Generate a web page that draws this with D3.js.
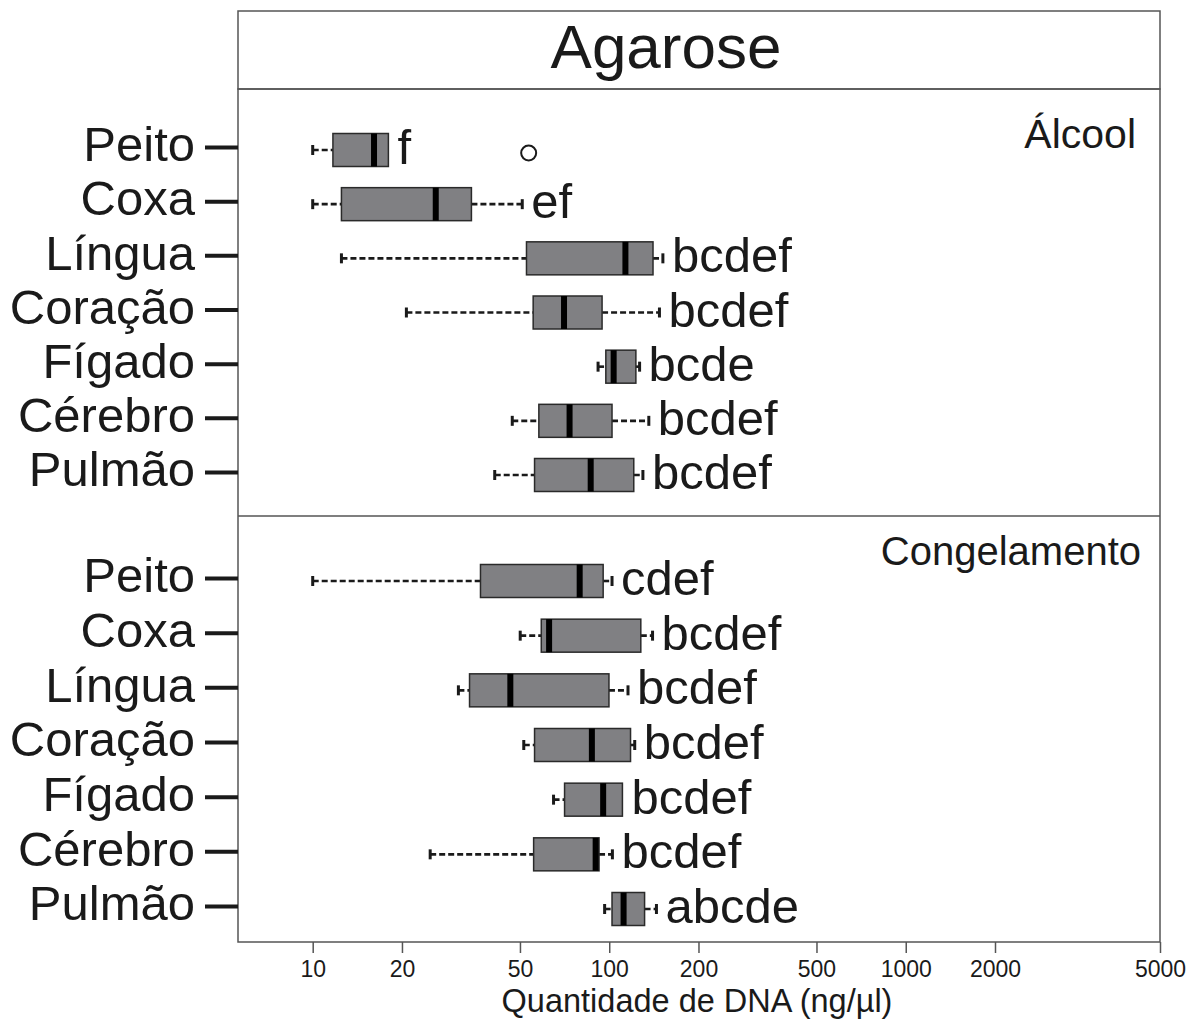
<!DOCTYPE html>
<html>
<head>
<meta charset="utf-8">
<script src="https://cdn.jsdelivr.net/npm/d3@7"></script>
<style>
  body { margin: 0; background: #fff; }
  text { font-family: "Liberation Sans", Arial, Helvetica, sans-serif; fill: #1a1a1a; }
</style>
</head>
<body>
<div id="chart"></div>
<script>
//***************** data *******************/
var organs = ["Peito", "Coxa", "Língua", "Coração", "Fígado", "Cérebro", "Pulmão"];

// Álcool
var alcoolMin    = [10,   10,   12.5,  20.7,  91.7,  47.1,  41.1];
var alcoolQ1     = [11.7, 12.5, 52.6,  55.4,  97.4,  57.9,  56];
var alcoolMed    = [16.1, 26,   113.4, 70.4,  103.5, 73.5,  86.6];
var alcoolQ3     = [18,   34.3, 140.5, 94.6,  123,   102.2, 121];
var alcoolMax    = [18,   50.9, 151.7, 147.7, 126.6, 136,   129.9];
var alcoolLetters = ["f", "ef", "bcdef", "bcdef", "bcde", "bcdef", "bcdef"];
var alcoolOutliers = [{organ: "Peito", value: 53.5}];

// Congelamento
var congMin    = [10,    50.1,  31,    51.5,  64.9,  24.9,  96.5];
var congQ1     = [36.8,  59,    33.8,  56,    70.7,  55.6,  102.2];
var congMed    = [79.5,  62.7,  46.4,  87.4,  95.4,  90,    111.8];
var congQ3     = [95.4,  127.8, 99.8,  118,   110.8, 92.4,  131.6];
var congMax    = [102.2, 140,   115.7, 121.9, 110.8, 102.5, 144.3];
var congLetters = ["cdef", "bcdef", "bcdef", "bcdef", "bcdef", "bcdef", "abcde"];
var congOutliers = [];

var xTicks = [10, 20, 50, 100, 200, 500, 1000, 2000, 5000];

//************* dimensions ***************/
var W = 1190, H = 1019;
var left = 238, right = 1160;
var titleTop = 11, titleBottom = 89, midLine = 516, bottom = 942;

var svg = d3.select("#chart").append("svg")
  .attr("width", W)
  .attr("height", H);

//***************** scales *******************/
// the drawn axis squeezes the last decade, so the scale is piecewise log
var x = d3.scaleLog()
  .domain([10, 2000, 5000])
  .range([312.7, 995, right]);

var yTop = d3.scalePoint().domain(organs).range([147, 472]);
var yBot = d3.scalePoint().domain(organs).range([578, 906]);

//***************** frames *******************/
svg.append("rect")
  .attr("x", left).attr("y", titleTop)
  .attr("width", right - left).attr("height", titleBottom - titleTop)
  .attr("fill", "none").attr("stroke", "#555").attr("stroke-width", 1.5);

svg.append("rect")
  .attr("x", left).attr("y", titleBottom)
  .attr("width", right - left).attr("height", bottom - titleBottom)
  .attr("fill", "none").attr("stroke", "#555").attr("stroke-width", 1.5);

svg.append("line")
  .attr("x1", left).attr("x2", right)
  .attr("y1", midLine).attr("y2", midLine)
  .attr("stroke", "#555").attr("stroke-width", 1.5);

//***************** titles *******************/
svg.append("text")
  .attr("x", 666).attr("y", 68)
  .attr("text-anchor", "middle")
  .style("font-size", "62px")
  .text("Agarose");

svg.append("text")
  .attr("x", 1136).attr("y", 148)
  .attr("text-anchor", "end")
  .style("font-size", "41px")
  .text("Álcool");

svg.append("text")
  .attr("x", 1141).attr("y", 565)
  .attr("text-anchor", "end")
  .style("font-size", "40px")
  .text("Congelamento");

//***************** x axis *******************/
var xAxis = d3.axisBottom(x)
  .tickValues(xTicks)
  .tickFormat(d3.format("d"))
  .tickSize(11)
  .tickPadding(8);

var gx = svg.append("g")
  .attr("transform", "translate(0," + bottom + ")")
  .call(xAxis);
gx.select(".domain").remove();
gx.selectAll(".tick line").attr("stroke", "#555").attr("stroke-width", 1.5);
gx.selectAll(".tick text")
  .style("font-size", "23px")
  .attr("fill", "#1a1a1a");

svg.append("text")
  .attr("x", (left + right) / 2 - 2).attr("y", 1012)
  .attr("text-anchor", "middle")
  .style("font-size", "32.5px")
  .text("Quantidade de DNA (ng/µl)");

//***************** panels *******************/
function drawPanel(y, mins, q1s, meds, q3s, maxs, letters, outliers) {
  var rows = organs.map(function(o, i) {
    return {organ: o, min: mins[i], q1: q1s[i], med: meds[i], q3: q3s[i], max: maxs[i], letter: letters[i]};
  });

  // y axis: labels + thick ticks
  var yAxis = d3.axisLeft(y).tickSize(33).tickPadding(10);
  var gy = svg.append("g")
    .attr("transform", "translate(" + left + ",0)")
    .call(yAxis);
  gy.select(".domain").remove();
  gy.selectAll(".tick line").attr("stroke", "#1a1a1a").attr("stroke-width", 4);
  gy.selectAll(".tick text")
    .style("font-size", "49px")
    .attr("fill", "#1a1a1a")
    .attr("dy", "0.28em");

  var g = svg.append("g");
  var bh = 33, off = 3;

  var row = g.selectAll("g.row").data(rows).enter().append("g").attr("class", "row");

  // whiskers
  row.append("line")
    .attr("x1", function(d) { return x(d.min); })
    .attr("x2", function(d) { return x(d.q1); })
    .attr("y1", function(d) { return y(d.organ) + off; })
    .attr("y2", function(d) { return y(d.organ) + off; })
    .attr("stroke", "#1a1a1a").attr("stroke-width", 2.6).attr("stroke-dasharray", "6,3");
  row.append("line")
    .attr("x1", function(d) { return x(d.q3); })
    .attr("x2", function(d) { return x(d.max); })
    .attr("y1", function(d) { return y(d.organ) + off; })
    .attr("y2", function(d) { return y(d.organ) + off; })
    .attr("stroke", "#1a1a1a").attr("stroke-width", 2.6).attr("stroke-dasharray", "6,3");

  // caps
  row.filter(function(d) { return d.min < d.q1; }).append("line")
    .attr("x1", function(d) { return x(d.min); })
    .attr("x2", function(d) { return x(d.min); })
    .attr("y1", function(d) { return y(d.organ) + off - 5; })
    .attr("y2", function(d) { return y(d.organ) + off + 5; })
    .attr("stroke", "#1a1a1a").attr("stroke-width", 3);
  row.filter(function(d) { return d.max > d.q3; }).append("line")
    .attr("x1", function(d) { return x(d.max); })
    .attr("x2", function(d) { return x(d.max); })
    .attr("y1", function(d) { return y(d.organ) + off - 5; })
    .attr("y2", function(d) { return y(d.organ) + off + 5; })
    .attr("stroke", "#1a1a1a").attr("stroke-width", 3);

  // boxes
  row.append("rect")
    .attr("x", function(d) { return x(d.q1); })
    .attr("width", function(d) { return x(d.q3) - x(d.q1); })
    .attr("y", function(d) { return y(d.organ) + off - bh / 2; })
    .attr("height", bh)
    .attr("fill", "#808083")
    .attr("stroke", "#2a2a2a").attr("stroke-width", 1.5);

  // medians
  row.append("rect")
    .attr("x", function(d) { return x(d.med) - 3; })
    .attr("width", 6)
    .attr("y", function(d) { return y(d.organ) + off - bh / 2; })
    .attr("height", bh)
    .attr("fill", "#000");

  // letters
  row.append("text")
    .attr("x", function(d) { return x(d.max) + 9; })
    .attr("y", function(d) { return y(d.organ) + off + 14; })
    .style("font-size", "49px")
    .text(function(d) { return d.letter; });

  // outliers
  g.selectAll("circle").data(outliers).enter().append("circle")
    .attr("cx", function(d) { return x(d.value); })
    .attr("cy", function(d) { return y(d.organ) + off + 3; })
    .attr("r", 7.5)
    .attr("fill", "#fff")
    .attr("stroke", "#1a1a1a").attr("stroke-width", 2);
}

drawPanel(yTop, alcoolMin, alcoolQ1, alcoolMed, alcoolQ3, alcoolMax, alcoolLetters, alcoolOutliers);
drawPanel(yBot, congMin, congQ1, congMed, congQ3, congMax, congLetters, congOutliers);
</script>
</body>
</html>
